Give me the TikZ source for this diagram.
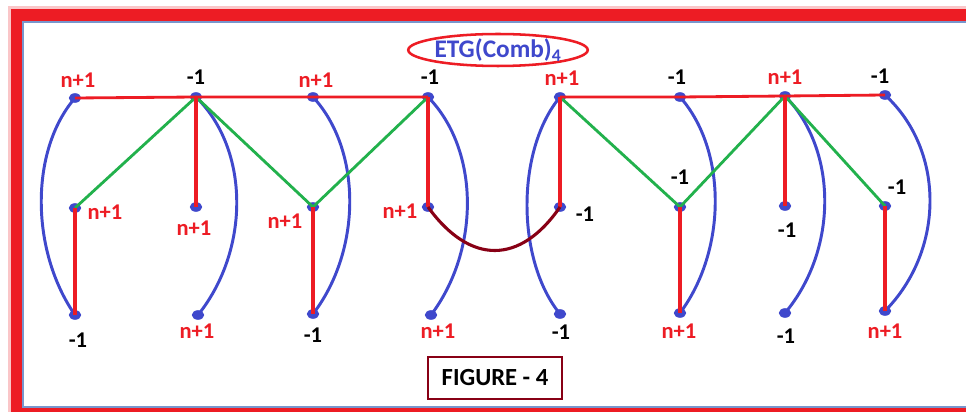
\documentclass[tikz,border=0pt]{standalone}
\usepackage{fontspec}
\setmainfont{Carlito}
\usetikzlibrary{calc,positioning,shapes.geometric}
\definecolor{paintRed}{RGB}{237,28,36}
\definecolor{paintBlue}{RGB}{63,72,204}
\definecolor{paintGreen}{RGB}{34,177,76}
\definecolor{paintMaroon}{RGB}{136,0,21}
\definecolor{frameLine}{RGB}{120,150,205}
\tikzset{
  vtx/.style={ellipse, fill=paintBlue, inner sep=0pt, minimum width=0.31cm, minimum height=0.24cm},
  plab/.style={text=paintRed, font=\fontsize{16}{18}\selectfont\bfseries, inner sep=0pt},
  mlab/.style={text=black, font=\fontsize{16}{18}\selectfont\bfseries, inner sep=0pt},
  redE/.style={draw=paintRed, line width=2pt},
  redV/.style={draw=paintRed, line width=2.8pt},
  grnE/.style={draw=paintGreen, line width=2pt},
  bluE/.style={draw=paintBlue, line width=2.1pt},
}

\begin{document}
\begin{tikzpicture}[x=0.025cm, y=-0.025cm]
\useasboundingbox (0,0) rectangle (966,412);
% frame
\draw[paintRed!25, line width=0.45cm] (17,15) rectangle (990,414);
\draw[paintRed, line width=0.28cm] (17,15) rectangle (990,414);
\fill[white] (23,22) rectangle (990,407);
\draw[frameLine, line width=1pt] (23,22) rectangle (990,407);

\node[ellipse, draw=paintRed, line width=1.8pt, minimum width=4cm, minimum height=0.75cm, inner sep=0pt,
  text=paintBlue, font=\fontsize{18}{20}\selectfont\bfseries] (title) at (498,50) {ETG(Comb)\textsubscript{4}};

% vertices
\node[vtx] (t1) at (75,98) {};
\node[vtx] (t2) at (196,97) {};
\node[vtx] (t3) at (313,97) {};
\node[vtx] (t4) at (428,97) {};
\node[vtx] (t5) at (560,97) {};
\node[vtx] (t6) at (680,97) {};
\node[vtx] (t7) at (785,96) {};
\node[vtx] (t8) at (885,95) {};
\node[vtx] (m1) at (75,208) {};
\node[vtx] (m2) at (196,207) {};
\node[vtx] (m3) at (313,207) {};
\node[vtx] (m4) at (428,207) {};
\node[vtx] (m5) at (560,207) {};
\node[vtx] (m6) at (680,207) {};
\node[vtx] (m7) at (785,206) {};
\node[vtx] (m8) at (885,206) {};
\node[vtx] (b1) at (75,315) {};
\node[vtx] (b2) at (198,315) {};
\node[vtx] (b3) at (313,314) {};
\node[vtx] (b4) at (431,315) {};
\node[vtx] (b5) at (560,314) {};
\node[vtx] (b6) at (680,313) {};
\node[vtx] (b7) at (785,313) {};
\node[vtx] (b8) at (885,311) {};

% labels
\node[plab] (lt1) at (78,80) {n+1};
\node[mlab] (lt2) at (196,77) {-1};
\node[plab] (lt3) at (316,80) {n+1};
\node[mlab] (lt4) at (430,77) {-1};
\node[plab] (lt5) at (562,78) {n+1};
\node[mlab] (lt6) at (677,77) {-1};
\node[plab] (lt7) at (785,77) {n+1};
\node[mlab] (lt8) at (880,76) {-1};
\node[plab] (lm1) at (105,212) {n+1};
\node[plab] (lm2) at (194,228) {n+1};
\node[plab] (lm3) at (285,221) {n+1};
\node[plab] (lm4) at (400,211) {n+1};
\node[mlab] (lm5) at (585,214) {-1};
\node[mlab] (lm6) at (680,177) {-1};
\node[mlab] (lm7) at (787,230) {-1};
\node[mlab] (lm8) at (897,187) {-1};
\node[mlab] (lb1) at (78,340) {-1};
\node[plab] (lb2) at (197,331) {n+1};
\node[mlab] (lb3) at (313,335) {-1};
\node[plab] (lb4) at (438,331) {n+1};
\node[mlab] (lb5) at (561,332) {-1};
\node[plab] (lb6) at (679,331) {n+1};
\node[mlab] (lb7) at (786,336) {-1};
\node[plab] (lb8) at (885,331) {n+1};

% blue curves
\draw[bluE] (t1.center) .. controls (30,150) and (30,250) .. (b1.center);
\draw[bluE] (t2.center) .. controls (250,150) and (250,250) .. (b2.center);
\draw[bluE] (t3.center) .. controls (362,150) and (362,250) .. (b3.center);
\draw[bluE] (t4.center) .. controls (480,150) and (480,250) .. (b4.center);
\draw[bluE] (t5.center) .. controls (516,150) and (516,260) .. (b5.center);
\draw[bluE] (t6.center) .. controls (727,150) and (727,250) .. (b6.center);
\draw[bluE] (t7.center) .. controls (838,150) and (838,250) .. (b7.center);
\draw[bluE] (t8.center) .. controls (945,150) and (945,250) .. (b8.center);

% green edges
\draw[grnE] (m1.center) -- (t2.center) -- (m3.center) -- (t4.center);
\draw[grnE] (t5.center) -- (m6.center) -- (t7.center) -- (m8.center);

% red edges
\draw[redE] (t1.center) -- (t2.center) -- (t3.center) -- (t4.center);
\draw[redE] (t5.center) -- (t6.center) -- (t7.center) -- (t8.center);
\draw[redV] (t2.center) -- (m2.center);
\draw[redV] (t4.center) -- (m4.center);
\draw[redV] (t5.center) -- (m5.center);
\draw[redV] (t7.center) -- (m7.center);
\draw[redV] (m1.center) -- (b1.center);
\draw[redV] (m3.center) -- (b3.center);
\draw[redV] (m6.center) -- (b6.center);
\draw[redV] (m8.center) -- (b8.center);
\draw[paintMaroon, line width=2.2pt] (m4.center) .. controls (470,265) and (520,265) .. (m5.center);

\node[draw=paintMaroon, line width=2pt, minimum width=3.35cm, minimum height=1.05cm, inner sep=0pt,
  font=\fontsize{17.5}{20}\selectfont\bfseries] (fig) at (495,378) {FIGURE - 4};
\end{tikzpicture}
\end{document}
